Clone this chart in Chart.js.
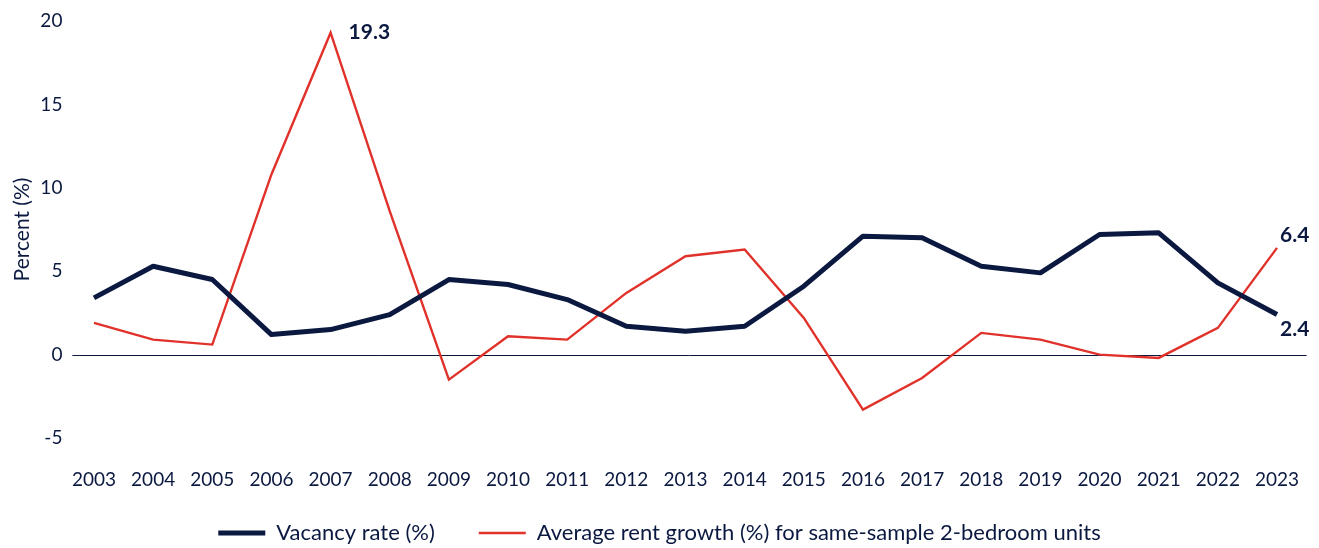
<!DOCTYPE html>
<html>
<head>
<meta charset="utf-8">
<script src="https://cdn.jsdelivr.net/npm/chart.js@4.4.1/dist/chart.umd.min.js"></script>
<style>
html,body{margin:0;padding:0;background:#fff;}
#wrap{width:1319px;height:548px;position:relative;}
</style>
</head>
<body>
<div id="wrap"><canvas id="c" width="1319" height="548"></canvas></div>
<script>
const years = ['2003','2004','2005','2006','2007','2008','2009','2010','2011','2012','2013','2014','2015','2016','2017','2018','2019','2020','2021','2022','2023'];
const vacancyRate = [3.4, 5.3, 4.5, 1.2, 1.5, 2.4, 4.5, 4.2, 3.3, 1.7, 1.4, 1.7, 4.1, 7.1, 7.0, 5.3, 4.9, 7.2, 7.3, 4.3, 2.4];
const rentGrowth = [1.9, 0.9, 0.6, 10.8, 19.3, 8.6, -1.5, 1.1, 0.9, 3.7, 5.9, 6.3, 2.2, -3.3, -1.4, 1.3, 0.9, 0.0, -0.2, 1.6, 6.4];
const yTicks = [-5, 0, 5, 10, 15, 20];
const seriesNames = ['Vacancy rate (%)', 'Average rent growth (%) for same-sample 2-bedroom units'];
const yTitle = 'Percent (%)';
// labelled points: [datasetIndex, pointIndex]
const labelled = [[1, 4], [1, 20], [0, 20]];

const NAVY = '#0b1941';
const RED = '#e0322a';
const FONT = 'Lato, "Open Sans", sans-serif';

const labelOffsets = {'1-4': [18, 0], '1-20': [3, -13], '0-20': [3, 15]};

const pointLabels = {
  id: 'pointLabels',
  afterDatasetsDraw(chart) {
    const ctx = chart.ctx;
    ctx.save();
    ctx.font = 'bold 21px ' + FONT;
    ctx.fillStyle = NAVY;
    ctx.textBaseline = 'middle';
    ctx.textAlign = 'left';
    labelled.forEach(([d, i]) => {
      const el = chart.getDatasetMeta(d).data[i];
      const v = chart.data.datasets[d].data[i];
      const o = labelOffsets[d + '-' + i];
      ctx.fillText(v.toFixed(1), el.x + o[0], el.y + o[1]);
    });
    ctx.restore();
  }
};

const zeroLine = {
  id: 'zeroLine',
  beforeDatasetsDraw(chart) {
    const {ctx, chartArea, scales} = chart;
    const y = Math.round(scales.y.getPixelForValue(0)) + 0.5;
    ctx.save();
    ctx.strokeStyle = NAVY;
    ctx.lineWidth = 1;
    ctx.beginPath();
    ctx.moveTo(chartArea.left + 8, y);
    ctx.lineTo(chartArea.right, y);
    ctx.stroke();
    ctx.restore();
  }
};

new Chart(document.getElementById('c'), {
  type: 'line',
  data: {
    labels: years,
    datasets: [
      {label: seriesNames[0], data: vacancyRate, borderColor: NAVY, backgroundColor: NAVY, borderWidth: 5, pointRadius: 0, tension: 0, borderJoinStyle: 'round'},
      {label: seriesNames[1], data: rentGrowth, borderColor: RED, backgroundColor: RED, borderWidth: 2.4, pointRadius: 0, tension: 0}
    ]
  },
  options: {
    responsive: false,
    animation: false,
    devicePixelRatio: 1,
    layout: {padding: {top: 21, right: 0, left: 0, bottom: -6}},
    plugins: {
      tooltip: {enabled: false},
      legend: {
        position: 'bottom',
        labels: {
          usePointStyle: true,
          pointStyle: 'line',
          pointStyleWidth: 47,
          padding: 44,
          color: NAVY,
          font: {family: FONT, size: 22}
        }
      }
    },
    scales: {
      x: {
        offset: true,
        grid: {display: false, drawTicks: false},
        border: {display: false},
        ticks: {color: NAVY, font: {family: FONT, size: 19}, padding: -53.4, mirror: true, maxRotation: 0, autoSkip: false},
        afterFit(s) { s.height = 40; }
      },
      y: {
        min: -5, max: 20,
        afterBuildTicks(s) { s.ticks = yTicks.map(v => ({value: v})); },
        grid: {display: false, drawTicks: false},
        border: {display: false},
        ticks: {color: NAVY, font: {family: FONT, size: 19}, padding: 2},
        title: {display: true, text: yTitle, color: NAVY, font: {family: FONT, size: 21}, padding: {top: 9.4, bottom: 0}},
        afterFit(s) { s.width = 64.4; }
      },
      yRight: {
        position: 'right',
        grid: {display: false, drawTicks: false},
        border: {display: false},
        ticks: {display: false},
        afterFit(s) { s.width = 12.4; }
      }
    }
  },
  plugins: [zeroLine, pointLabels]
});
</script>
</body>
</html>
